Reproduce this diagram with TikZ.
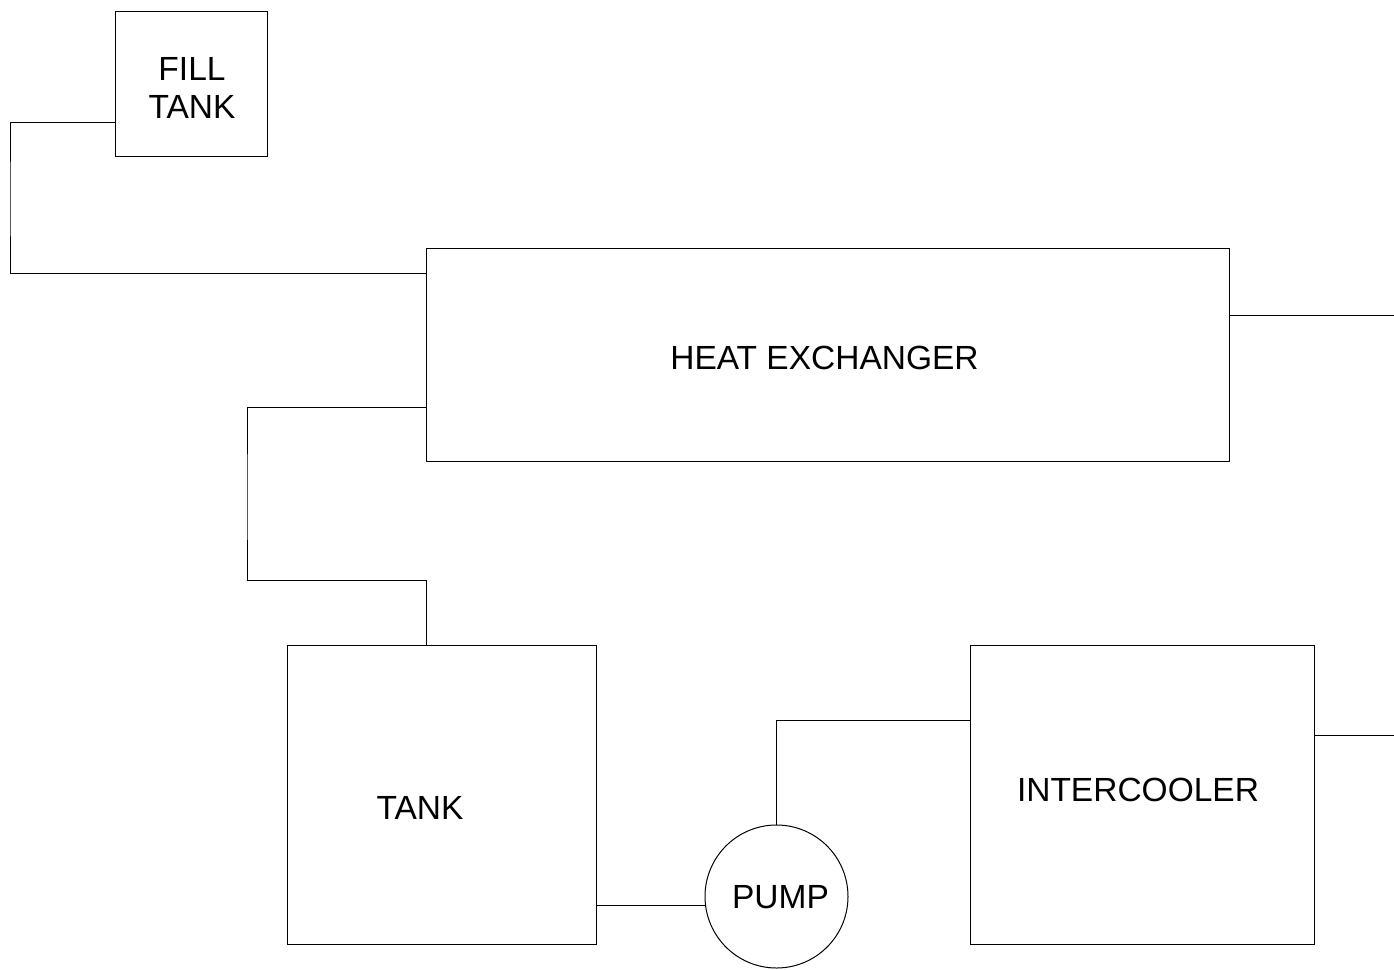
\documentclass[tikz,border=0pt]{standalone}
\usepackage{fontspec}
\setmainfont{Liberation Sans}
\begin{document}
\begin{tikzpicture}[x=1pt,y=-1pt,
  box/.style={draw, line width=1pt, inner sep=0pt, anchor=center},
  lbl/.style={font=\fontsize{33.5}{38}\selectfont, align=center, inner sep=0pt},
  pipe/.style={draw, line width=1pt}]
\useasboundingbox (0,0) rectangle (1394,969);
\node[box, minimum width=152pt, minimum height=145pt] (fill) at (191,83.5) {};
\node[lbl] (filllbl) at (192,88) {FILL\\TANK};
\node[box, minimum width=803pt, minimum height=213pt] (hx) at (827.5,354.5) {};
\node[lbl] (hxlbl) at (824.5,358) {HEAT EXCHANGER};
\node[box, minimum width=309pt, minimum height=299pt] (tank) at (441.5,794.5) {};
\node[lbl] (tanklbl) at (420,808) {TANK};
\node[box, minimum width=344pt, minimum height=299pt] (ic) at (1142,794.5) {};
\node[lbl] (iclbl) at (1138,790) {INTERCOOLER};
\node[box, circle, minimum size=143pt] (pump) at (776.5,896.5) {};
\node[lbl] (pumplbl) at (780.5,897) {PUMP};
\coordinate (c1) at (10,200);
\coordinate (c2) at (247,500);
\coordinate (c3) at (426,580);
\coordinate (e1) at (1394,315);
\coordinate (e2) at (1394,735);
\draw[pipe] ([yshift=-38.5pt]fill.west) -| (c1) |- ([yshift=81.5pt]hx.west);
\draw[pipe] ([yshift=-52.5pt]hx.west) -| (c2) |- (c3) -- ([xshift=-15.5pt]tank.north);
\draw[pipe] ([yshift=39.5pt]hx.east) -- (e1);
\draw[pipe] ([yshift=-110.5pt]tank.east) -- ([yshift=-110.5pt]tank.east -| pump.187);
\draw[pipe] (pump.north) |- ([yshift=74.5pt]ic.west);
\draw[pipe] ([yshift=59.5pt]ic.east) -- (e2);
\end{tikzpicture}
\end{document}
